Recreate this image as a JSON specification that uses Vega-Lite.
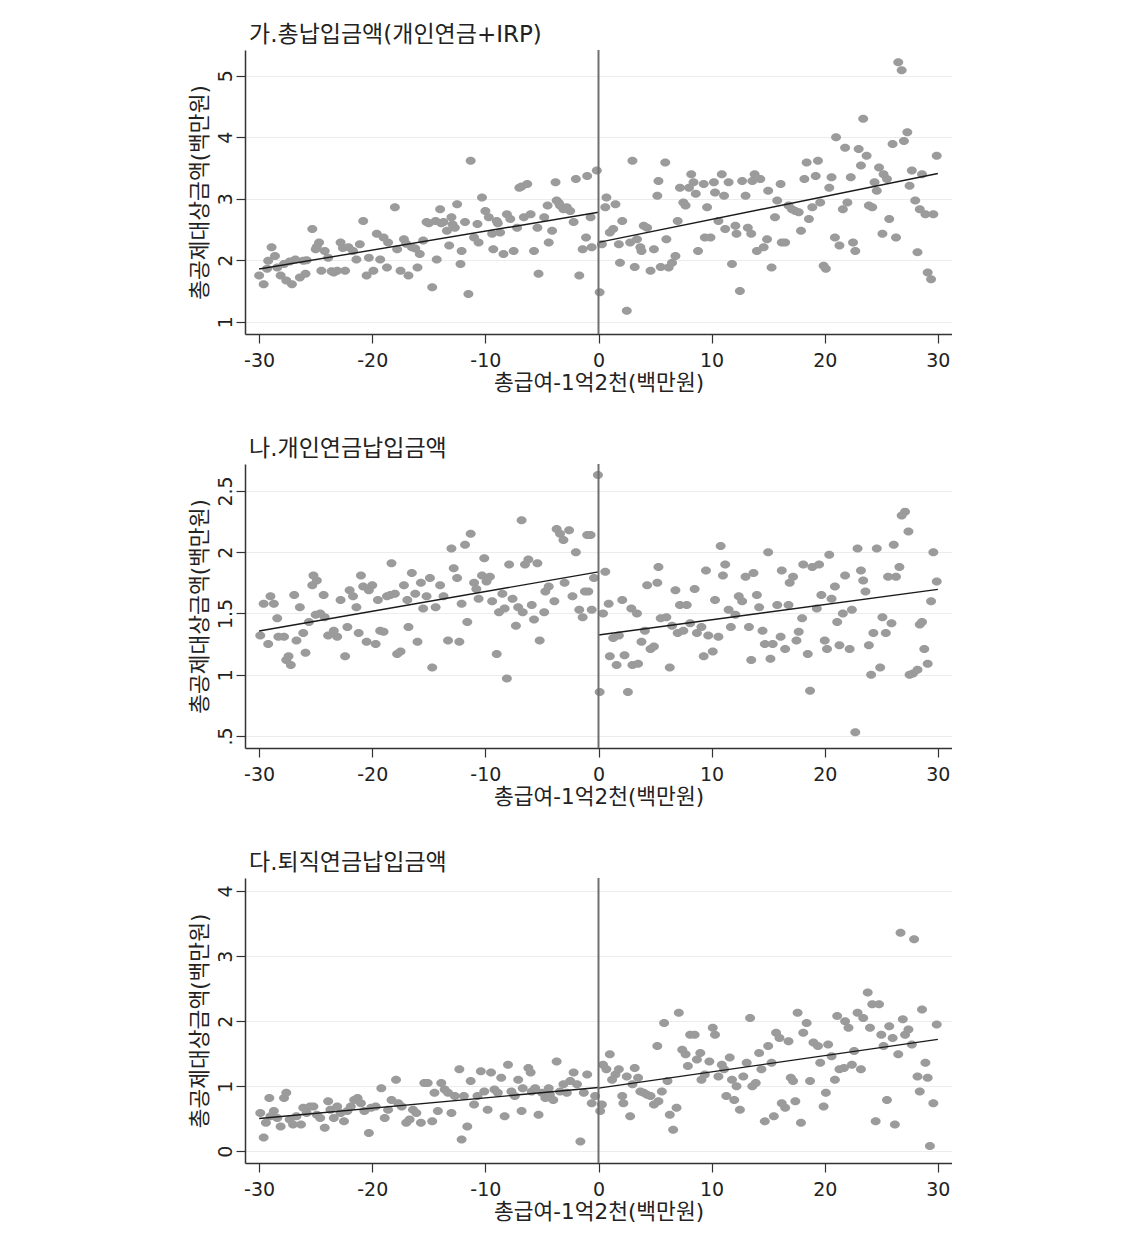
{
"$schema": "https://vega.github.io/schema/vega-lite/v6.json",
"background": "white",
"padding": {"left": 189, "top": 24, "right": 0, "bottom": 0},
"spacing": 44,
"config": {
  "font": "DejaVu Sans, Noto Sans CJK KR",
  "view": {"stroke": null},
  "title": {"fontSize": 23, "fontWeight": "normal", "anchor": "start", "frame": "group", "offset": 2, "dx": 4, "color": "#222222", "font": "DejaVu Sans, Noto Sans CJK KR"},
  "axis": {"domainColor": "#333333", "domainWidth": 1.5, "tickColor": "#333333", "tickSize": 9, "tickWidth": 1.2, "labelFontSize": 19, "labelColor": "#222222", "titleFontSize": 21.5, "titleFontWeight": "normal", "titleColor": "#222222", "gridColor": "#ececec", "gridWidth": 1.2, "labelFont": "DejaVu Sans, Noto Sans CJK KR", "titleFont": "DejaVu Sans, Noto Sans CJK KR"},
  "axisX": {"grid": false, "labelPadding": 8, "titlePadding": 2, "labelExpr": "(datum.value<0?'-':'')+abs(datum.value)"},
  "axisY": {"grid": true, "labelAngle": 270, "labelPadding": 1, "titlePadding": 5, "format": "~g"}
},
"datasets": {
"lines": [
{"p":1,"s":"a","x":-30,"y":1.857},{"p":1,"s":"a","x":0,"y":2.78},{"p":1,"s":"b","x":0,"y":2.29},{"p":1,"s":"b","x":30,"y":3.41},
{"p":2,"s":"a","x":-30,"y":1.357},{"p":2,"s":"a","x":0,"y":1.84},{"p":2,"s":"b","x":0,"y":1.324},{"p":2,"s":"b","x":30,"y":1.697},
{"p":3,"s":"a","x":-30,"y":0.503},{"p":3,"s":"a","x":0,"y":0.98},{"p":3,"s":"b","x":0,"y":0.97},{"p":3,"s":"b","x":30,"y":1.72}
],
"pts": [
{"p":1,"x":-30,"y":1.75},{"p":1,"x":-29.6,"y":1.61},{"p":1,"x":-29.3,"y":1.86},{"p":1,"x":-29.2,"y":1.99},{"p":1,"x":-28.9,"y":2.21},{"p":1,"x":-28.6,"y":2.07},{"p":1,"x":-28.4,"y":1.88},{"p":1,"x":-28.1,"y":1.75},{"p":1,"x":-27.8,"y":1.94},{"p":1,"x":-27.6,"y":1.67},{"p":1,"x":-27.3,"y":1.98},{"p":1,"x":-27.1,"y":1.61},{"p":1,"x":-26.8,"y":2.01},{"p":1,"x":-26.4,"y":1.72},{"p":1,"x":-26.1,"y":1.99},{"p":1,"x":-25.9,"y":1.78},{"p":1,"x":-25.8,"y":2.0},{"p":1,"x":-25.3,"y":2.51},{"p":1,"x":-25.0,"y":2.18},{"p":1,"x":-24.9,"y":2.22},{"p":1,"x":-24.7,"y":2.29},{"p":1,"x":-24.5,"y":1.83},{"p":1,"x":-24.2,"y":2.15},{"p":1,"x":-23.9,"y":2.04},{"p":1,"x":-23.6,"y":1.82},{"p":1,"x":-23.4,"y":1.80},{"p":1,"x":-23.1,"y":1.83},{"p":1,"x":-22.8,"y":2.29},{"p":1,"x":-22.6,"y":2.2},{"p":1,"x":-22.4,"y":1.83},{"p":1,"x":-22.1,"y":2.21},{"p":1,"x":-21.7,"y":2.15},{"p":1,"x":-21.4,"y":2.01},{"p":1,"x":-21.1,"y":2.26},{"p":1,"x":-20.8,"y":2.64},{"p":1,"x":-20.5,"y":1.75},{"p":1,"x":-20.3,"y":2.04},{"p":1,"x":-19.9,"y":1.83},{"p":1,"x":-19.6,"y":2.43},{"p":1,"x":-19.3,"y":2.01},{"p":1,"x":-19.0,"y":2.37},{"p":1,"x":-18.7,"y":1.88},{"p":1,"x":-18.6,"y":2.29},{"p":1,"x":-18.0,"y":2.86},{"p":1,"x":-17.8,"y":2.18},{"p":1,"x":-17.5,"y":1.83},{"p":1,"x":-17.2,"y":2.34},{"p":1,"x":-17.0,"y":2.27},{"p":1,"x":-16.8,"y":1.75},{"p":1,"x":-16.5,"y":2.21},{"p":1,"x":-16.2,"y":2.19},{"p":1,"x":-16.0,"y":1.88},{"p":1,"x":-15.8,"y":2.10},{"p":1,"x":-15.5,"y":2.32},{"p":1,"x":-15.2,"y":2.62},{"p":1,"x":-15.0,"y":2.6},{"p":1,"x":-14.7,"y":1.56},{"p":1,"x":-14.4,"y":2.64},{"p":1,"x":-14.3,"y":2.01},{"p":1,"x":-14.0,"y":2.83},{"p":1,"x":-13.9,"y":2.6},{"p":1,"x":-13.7,"y":2.62},{"p":1,"x":-13.4,"y":2.48},{"p":1,"x":-13.2,"y":2.24},{"p":1,"x":-13.0,"y":2.70},{"p":1,"x":-12.9,"y":2.58},{"p":1,"x":-12.7,"y":2.53},{"p":1,"x":-12.5,"y":2.91},{"p":1,"x":-12.2,"y":1.94},{"p":1,"x":-12.1,"y":2.15},{"p":1,"x":-11.8,"y":2.62},{"p":1,"x":-11.5,"y":1.45},{"p":1,"x":-11.3,"y":3.62},{"p":1,"x":-11.0,"y":2.37},{"p":1,"x":-10.7,"y":2.59},{"p":1,"x":-10.6,"y":2.29},{"p":1,"x":-10.3,"y":3.02},{"p":1,"x":-10.0,"y":2.80},{"p":1,"x":-9.7,"y":2.70},{"p":1,"x":-9.4,"y":2.43},{"p":1,"x":-9.3,"y":2.18},{"p":1,"x":-9.0,"y":2.64},{"p":1,"x":-8.9,"y":2.6},{"p":1,"x":-8.7,"y":2.45},{"p":1,"x":-8.4,"y":2.10},{"p":1,"x":-8.1,"y":2.75},{"p":1,"x":-7.8,"y":2.67},{"p":1,"x":-7.5,"y":2.15},{"p":1,"x":-7.2,"y":2.53},{"p":1,"x":-7.0,"y":3.18},{"p":1,"x":-6.8,"y":3.2},{"p":1,"x":-6.6,"y":2.70},{"p":1,"x":-6.3,"y":3.24},{"p":1,"x":-6.0,"y":2.75},{"p":1,"x":-5.7,"y":2.15},{"p":1,"x":-5.4,"y":2.53},{"p":1,"x":-5.3,"y":1.78},{"p":1,"x":-4.8,"y":2.70},{"p":1,"x":-4.5,"y":2.89},{"p":1,"x":-4.4,"y":2.29},{"p":1,"x":-4.1,"y":2.48},{"p":1,"x":-3.8,"y":3.27},{"p":1,"x":-3.7,"y":2.97},{"p":1,"x":-3.5,"y":2.93},{"p":1,"x":-3.4,"y":2.89},{"p":1,"x":-3.1,"y":2.83},{"p":1,"x":-2.8,"y":2.86},{"p":1,"x":-2.5,"y":2.80},{"p":1,"x":-2.2,"y":2.62},{"p":1,"x":-2.0,"y":3.32},{"p":1,"x":-1.7,"y":1.75},{"p":1,"x":-1.4,"y":2.18},{"p":1,"x":-1.1,"y":2.37},{"p":1,"x":-1.0,"y":3.37},{"p":1,"x":-0.7,"y":2.70},{"p":1,"x":-0.6,"y":2.21},{"p":1,"x":-0.15,"y":3.46},
{"p":1,"x":0.1,"y":1.48},{"p":1,"x":0.3,"y":2.26},{"p":1,"x":0.6,"y":2.86},{"p":1,"x":0.7,"y":3.02},{"p":1,"x":1.0,"y":2.45},{"p":1,"x":1.3,"y":2.51},{"p":1,"x":1.5,"y":2.91},{"p":1,"x":1.8,"y":2.26},{"p":1,"x":1.9,"y":1.96},{"p":1,"x":2.1,"y":2.64},{"p":1,"x":2.5,"y":1.18},{"p":1,"x":2.8,"y":2.29},{"p":1,"x":3.0,"y":3.62},{"p":1,"x":3.2,"y":1.89},{"p":1,"x":3.4,"y":2.34},{"p":1,"x":3.7,"y":2.21},{"p":1,"x":3.8,"y":2.15},{"p":1,"x":4.0,"y":2.56},{"p":1,"x":4.3,"y":2.53},{"p":1,"x":4.6,"y":1.83},{"p":1,"x":4.9,"y":2.18},{"p":1,"x":5.2,"y":3.05},{"p":1,"x":5.3,"y":3.29},{"p":1,"x":5.5,"y":1.89},{"p":1,"x":5.9,"y":3.59},{"p":1,"x":6.0,"y":2.34},{"p":1,"x":6.2,"y":1.88},{"p":1,"x":6.5,"y":1.96},{"p":1,"x":6.8,"y":2.07},{"p":1,"x":7.0,"y":2.64},{"p":1,"x":7.2,"y":3.18},{"p":1,"x":7.5,"y":2.94},{"p":1,"x":7.7,"y":2.89},{"p":1,"x":8.0,"y":3.18},{"p":1,"x":8.2,"y":3.40},{"p":1,"x":8.4,"y":3.27},{"p":1,"x":8.6,"y":3.08},{"p":1,"x":8.8,"y":2.15},{"p":1,"x":9.3,"y":3.24},{"p":1,"x":9.4,"y":2.37},{"p":1,"x":9.6,"y":2.86},{"p":1,"x":9.9,"y":2.37},{"p":1,"x":10.2,"y":3.27},{"p":1,"x":10.3,"y":3.10},{"p":1,"x":10.6,"y":2.64},{"p":1,"x":10.9,"y":3.40},{"p":1,"x":11.1,"y":3.05},{"p":1,"x":11.2,"y":2.51},{"p":1,"x":11.5,"y":3.27},{"p":1,"x":11.8,"y":1.94},{"p":1,"x":12.1,"y":2.56},{"p":1,"x":12.2,"y":2.43},{"p":1,"x":12.5,"y":1.50},{"p":1,"x":12.7,"y":3.29},{"p":1,"x":13.0,"y":3.05},{"p":1,"x":13.2,"y":2.53},{"p":1,"x":13.5,"y":2.43},{"p":1,"x":13.6,"y":3.29},{"p":1,"x":13.8,"y":3.40},{"p":1,"x":14.0,"y":2.15},{"p":1,"x":14.3,"y":3.32},{"p":1,"x":14.6,"y":2.21},{"p":1,"x":14.9,"y":2.34},{"p":1,"x":15.0,"y":3.13},{"p":1,"x":15.3,"y":1.88},{"p":1,"x":15.6,"y":2.70},{"p":1,"x":15.8,"y":2.97},{"p":1,"x":16.1,"y":3.24},{"p":1,"x":16.2,"y":2.29},{"p":1,"x":16.5,"y":2.29},{"p":1,"x":16.8,"y":2.89},{"p":1,"x":17.1,"y":2.83},{"p":1,"x":17.4,"y":2.80},{"p":1,"x":17.7,"y":2.78},{"p":1,"x":17.9,"y":2.48},{"p":1,"x":18.2,"y":3.32},{"p":1,"x":18.4,"y":3.59},{"p":1,"x":18.6,"y":2.67},{"p":1,"x":18.9,"y":2.86},{"p":1,"x":19.2,"y":3.37},{"p":1,"x":19.4,"y":3.62},{"p":1,"x":19.6,"y":2.94},{"p":1,"x":19.9,"y":1.91},{"p":1,"x":20.1,"y":1.86},{"p":1,"x":20.4,"y":3.18},{"p":1,"x":20.6,"y":3.35},{"p":1,"x":20.9,"y":2.37},{"p":1,"x":21.0,"y":4.00},{"p":1,"x":21.3,"y":2.24},{"p":1,"x":21.6,"y":2.83},{"p":1,"x":21.8,"y":3.83},{"p":1,"x":22.0,"y":2.94},{"p":1,"x":22.3,"y":3.35},{"p":1,"x":22.5,"y":2.29},{"p":1,"x":22.7,"y":2.15},{"p":1,"x":23.0,"y":3.81},{"p":1,"x":23.2,"y":3.54},{"p":1,"x":23.4,"y":4.30},{"p":1,"x":23.7,"y":3.70},{"p":1,"x":23.9,"y":2.89},{"p":1,"x":24.2,"y":2.86},{"p":1,"x":24.4,"y":3.27},{"p":1,"x":24.6,"y":3.13},{"p":1,"x":24.8,"y":3.51},{"p":1,"x":25.1,"y":2.43},{"p":1,"x":25.2,"y":3.40},{"p":1,"x":25.5,"y":3.32},{"p":1,"x":25.7,"y":2.67},{"p":1,"x":26.0,"y":3.89},{"p":1,"x":26.3,"y":2.37},{"p":1,"x":26.5,"y":5.22},{"p":1,"x":26.8,"y":5.09},{"p":1,"x":27.0,"y":3.94},{"p":1,"x":27.3,"y":4.08},{"p":1,"x":27.5,"y":3.21},{"p":1,"x":27.7,"y":3.46},{"p":1,"x":28.0,"y":2.97},{"p":1,"x":28.2,"y":2.13},{"p":1,"x":28.4,"y":2.83},{"p":1,"x":28.6,"y":3.40},{"p":1,"x":28.9,"y":2.75},{"p":1,"x":29.1,"y":1.80},{"p":1,"x":29.4,"y":1.69},{"p":1,"x":29.6,"y":2.75},{"p":1,"x":29.9,"y":3.70},
{"p":2,"x":-29.9,"y":1.32},{"p":2,"x":-29.6,"y":1.58},{"p":2,"x":-29.2,"y":1.25},{"p":2,"x":-29.0,"y":1.64},{"p":2,"x":-28.7,"y":1.58},{"p":2,"x":-28.4,"y":1.46},{"p":2,"x":-28.3,"y":1.31},{"p":2,"x":-27.8,"y":1.31},{"p":2,"x":-27.6,"y":1.12},{"p":2,"x":-27.4,"y":1.15},{"p":2,"x":-27.2,"y":1.08},{"p":2,"x":-26.9,"y":1.65},{"p":2,"x":-26.7,"y":1.28},{"p":2,"x":-26.4,"y":1.55},{"p":2,"x":-26.1,"y":1.34},{"p":2,"x":-25.9,"y":1.18},{"p":2,"x":-25.6,"y":1.43},{"p":2,"x":-25.3,"y":1.73},{"p":2,"x":-25.2,"y":1.81},{"p":2,"x":-24.9,"y":1.77},{"p":2,"x":-25.0,"y":1.49},{"p":2,"x":-24.6,"y":1.50},{"p":2,"x":-24.3,"y":1.65},{"p":2,"x":-24.2,"y":1.47},{"p":2,"x":-23.9,"y":1.32},{"p":2,"x":-23.4,"y":1.36},{"p":2,"x":-23.1,"y":1.31},{"p":2,"x":-22.8,"y":1.61},{"p":2,"x":-22.4,"y":1.15},{"p":2,"x":-22.2,"y":1.39},{"p":2,"x":-22.0,"y":1.69},{"p":2,"x":-21.7,"y":1.64},{"p":2,"x":-21.4,"y":1.55},{"p":2,"x":-21.2,"y":1.34},{"p":2,"x":-21.0,"y":1.81},{"p":2,"x":-20.8,"y":1.72},{"p":2,"x":-20.5,"y":1.27},{"p":2,"x":-20.3,"y":1.69},{"p":2,"x":-20.0,"y":1.73},{"p":2,"x":-19.7,"y":1.25},{"p":2,"x":-19.5,"y":1.61},{"p":2,"x":-19.3,"y":1.36},{"p":2,"x":-19.0,"y":1.35},{"p":2,"x":-18.7,"y":1.64},{"p":2,"x":-18.4,"y":1.65},{"p":2,"x":-18.3,"y":1.91},{"p":2,"x":-18.0,"y":1.66},{"p":2,"x":-17.8,"y":1.17},{"p":2,"x":-17.5,"y":1.19},{"p":2,"x":-17.2,"y":1.73},{"p":2,"x":-16.9,"y":1.61},{"p":2,"x":-16.8,"y":1.39},{"p":2,"x":-16.5,"y":1.83},{"p":2,"x":-16.2,"y":1.66},{"p":2,"x":-16.0,"y":1.27},{"p":2,"x":-15.7,"y":1.75},{"p":2,"x":-15.5,"y":1.54},{"p":2,"x":-15.2,"y":1.64},{"p":2,"x":-14.9,"y":1.79},{"p":2,"x":-14.7,"y":1.06},{"p":2,"x":-14.4,"y":1.55},{"p":2,"x":-14.0,"y":1.73},{"p":2,"x":-13.7,"y":1.64},{"p":2,"x":-13.3,"y":1.28},{"p":2,"x":-13.0,"y":2.03},{"p":2,"x":-12.8,"y":1.87},{"p":2,"x":-12.5,"y":1.79},{"p":2,"x":-12.3,"y":1.27},{"p":2,"x":-12.1,"y":1.58},{"p":2,"x":-11.8,"y":2.06},{"p":2,"x":-11.6,"y":1.43},{"p":2,"x":-11.3,"y":2.15},{"p":2,"x":-11.0,"y":1.75},{"p":2,"x":-10.8,"y":1.70},{"p":2,"x":-10.6,"y":1.62},{"p":2,"x":-10.3,"y":1.81},{"p":2,"x":-10.1,"y":1.95},{"p":2,"x":-9.9,"y":1.76},{"p":2,"x":-9.6,"y":1.80},{"p":2,"x":-9.4,"y":1.60},{"p":2,"x":-9.0,"y":1.17},{"p":2,"x":-8.8,"y":1.51},{"p":2,"x":-8.5,"y":1.66},{"p":2,"x":-8.3,"y":1.54},{"p":2,"x":-8.1,"y":0.97},{"p":2,"x":-7.9,"y":1.90},{"p":2,"x":-7.6,"y":1.62},{"p":2,"x":-7.3,"y":1.40},{"p":2,"x":-7.1,"y":1.55},{"p":2,"x":-6.8,"y":2.26},{"p":2,"x":-6.7,"y":1.51},{"p":2,"x":-6.5,"y":1.90},{"p":2,"x":-6.2,"y":1.94},{"p":2,"x":-5.9,"y":1.57},{"p":2,"x":-5.7,"y":1.45},{"p":2,"x":-5.4,"y":1.91},{"p":2,"x":-5.2,"y":1.28},{"p":2,"x":-4.8,"y":1.51},{"p":2,"x":-4.7,"y":1.68},{"p":2,"x":-4.4,"y":1.72},{"p":2,"x":-3.9,"y":1.60},{"p":2,"x":-3.7,"y":2.19},{"p":2,"x":-3.4,"y":2.15},{"p":2,"x":-3.1,"y":2.10},{"p":2,"x":-3.0,"y":1.75},{"p":2,"x":-2.6,"y":2.18},{"p":2,"x":-2.3,"y":1.64},{"p":2,"x":-2.0,"y":2.00},{"p":2,"x":-1.7,"y":1.53},{"p":2,"x":-1.4,"y":1.47},{"p":2,"x":-1.2,"y":1.68},{"p":2,"x":-1.0,"y":2.14},{"p":2,"x":-0.7,"y":2.14},{"p":2,"x":-0.4,"y":1.79},{"p":2,"x":-0.9,"y":1.68},{"p":2,"x":-0.6,"y":1.53},{"p":2,"x":-0.05,"y":2.63},
{"p":2,"x":0.1,"y":0.86},{"p":2,"x":0.4,"y":1.50},{"p":2,"x":0.6,"y":1.84},{"p":2,"x":0.9,"y":1.58},{"p":2,"x":1.0,"y":1.15},{"p":2,"x":1.3,"y":1.30},{"p":2,"x":1.6,"y":1.08},{"p":2,"x":1.8,"y":1.32},{"p":2,"x":2.1,"y":1.61},{"p":2,"x":2.3,"y":1.16},{"p":2,"x":2.6,"y":0.86},{"p":2,"x":2.9,"y":1.54},{"p":2,"x":3.0,"y":1.08},{"p":2,"x":3.4,"y":1.50},{"p":2,"x":3.5,"y":1.09},{"p":2,"x":3.8,"y":1.27},{"p":2,"x":4.1,"y":1.36},{"p":2,"x":4.3,"y":1.73},{"p":2,"x":4.6,"y":1.21},{"p":2,"x":4.9,"y":1.23},{"p":2,"x":5.2,"y":1.75},{"p":2,"x":5.3,"y":1.88},{"p":2,"x":5.5,"y":1.46},{"p":2,"x":6.0,"y":1.47},{"p":2,"x":6.3,"y":1.06},{"p":2,"x":6.5,"y":1.40},{"p":2,"x":6.8,"y":1.69},{"p":2,"x":7.0,"y":1.34},{"p":2,"x":7.2,"y":1.57},{"p":2,"x":7.5,"y":1.36},{"p":2,"x":7.8,"y":1.57},{"p":2,"x":8.1,"y":1.42},{"p":2,"x":8.5,"y":1.70},{"p":2,"x":8.7,"y":1.34},{"p":2,"x":9.1,"y":1.39},{"p":2,"x":9.3,"y":1.15},{"p":2,"x":9.5,"y":1.85},{"p":2,"x":9.7,"y":1.32},{"p":2,"x":10.1,"y":1.19},{"p":2,"x":10.3,"y":1.61},{"p":2,"x":10.6,"y":1.31},{"p":2,"x":10.8,"y":2.05},{"p":2,"x":11.0,"y":1.81},{"p":2,"x":11.2,"y":1.90},{"p":2,"x":11.5,"y":1.53},{"p":2,"x":11.7,"y":1.39},{"p":2,"x":12.1,"y":1.49},{"p":2,"x":12.4,"y":1.64},{"p":2,"x":12.7,"y":1.60},{"p":2,"x":13.0,"y":1.80},{"p":2,"x":13.3,"y":1.39},{"p":2,"x":13.5,"y":1.12},{"p":2,"x":13.7,"y":1.83},{"p":2,"x":14.0,"y":1.65},{"p":2,"x":14.2,"y":1.55},{"p":2,"x":14.5,"y":1.36},{"p":2,"x":14.7,"y":1.25},{"p":2,"x":15.0,"y":2.00},{"p":2,"x":15.2,"y":1.13},{"p":2,"x":15.4,"y":1.25},{"p":2,"x":15.8,"y":1.57},{"p":2,"x":16.1,"y":1.31},{"p":2,"x":16.2,"y":1.85},{"p":2,"x":16.5,"y":1.21},{"p":2,"x":16.8,"y":1.57},{"p":2,"x":16.9,"y":1.75},{"p":2,"x":17.2,"y":1.80},{"p":2,"x":17.5,"y":1.28},{"p":2,"x":17.7,"y":1.35},{"p":2,"x":18.0,"y":1.46},{"p":2,"x":18.1,"y":1.90},{"p":2,"x":18.5,"y":1.17},{"p":2,"x":18.7,"y":0.87},{"p":2,"x":18.9,"y":1.88},{"p":2,"x":19.3,"y":1.54},{"p":2,"x":19.5,"y":1.90},{"p":2,"x":19.7,"y":1.65},{"p":2,"x":20.0,"y":1.28},{"p":2,"x":20.2,"y":1.21},{"p":2,"x":20.4,"y":1.98},{"p":2,"x":20.6,"y":1.62},{"p":2,"x":20.9,"y":1.72},{"p":2,"x":21.1,"y":1.43},{"p":2,"x":21.3,"y":1.24},{"p":2,"x":21.6,"y":1.50},{"p":2,"x":21.8,"y":1.81},{"p":2,"x":22.2,"y":1.21},{"p":2,"x":22.4,"y":1.53},{"p":2,"x":22.7,"y":0.53},{"p":2,"x":22.9,"y":2.03},{"p":2,"x":23.2,"y":1.85},{"p":2,"x":23.4,"y":1.77},{"p":2,"x":23.6,"y":1.68},{"p":2,"x":23.9,"y":1.24},{"p":2,"x":24.1,"y":1.00},{"p":2,"x":24.3,"y":1.34},{"p":2,"x":24.6,"y":2.03},{"p":2,"x":24.9,"y":1.06},{"p":2,"x":25.1,"y":1.47},{"p":2,"x":25.4,"y":1.34},{"p":2,"x":25.6,"y":1.80},{"p":2,"x":25.9,"y":1.42},{"p":2,"x":26.1,"y":2.06},{"p":2,"x":26.3,"y":1.80},{"p":2,"x":26.6,"y":1.88},{"p":2,"x":26.8,"y":2.30},{"p":2,"x":27.1,"y":2.33},{"p":2,"x":27.4,"y":2.17},{"p":2,"x":27.5,"y":1.00},{"p":2,"x":27.8,"y":1.01},{"p":2,"x":28.2,"y":1.04},{"p":2,"x":28.4,"y":1.41},{"p":2,"x":28.6,"y":1.43},{"p":2,"x":28.8,"y":1.21},{"p":2,"x":29.1,"y":1.09},{"p":2,"x":29.4,"y":1.60},{"p":2,"x":29.6,"y":2.00},{"p":2,"x":29.9,"y":1.76},
{"p":3,"x":-29.9,"y":0.59},{"p":3,"x":-29.6,"y":0.21},{"p":3,"x":-29.4,"y":0.44},{"p":3,"x":-29.1,"y":0.82},{"p":3,"x":-29.0,"y":0.54},{"p":3,"x":-28.7,"y":0.62},{"p":3,"x":-28.4,"y":0.51},{"p":3,"x":-28.1,"y":0.38},{"p":3,"x":-27.8,"y":0.82},{"p":3,"x":-27.6,"y":0.90},{"p":3,"x":-27.3,"y":0.49},{"p":3,"x":-27.0,"y":0.41},{"p":3,"x":-26.7,"y":0.54},{"p":3,"x":-26.3,"y":0.41},{"p":3,"x":-26.1,"y":0.67},{"p":3,"x":-25.8,"y":0.59},{"p":3,"x":-25.5,"y":0.69},{"p":3,"x":-25.2,"y":0.69},{"p":3,"x":-24.9,"y":0.56},{"p":3,"x":-24.6,"y":0.51},{"p":3,"x":-24.2,"y":0.36},{"p":3,"x":-23.9,"y":0.77},{"p":3,"x":-23.7,"y":0.64},{"p":3,"x":-23.4,"y":0.51},{"p":3,"x":-23.1,"y":0.69},{"p":3,"x":-22.8,"y":0.59},{"p":3,"x":-22.5,"y":0.46},{"p":3,"x":-22.2,"y":0.62},{"p":3,"x":-21.9,"y":0.69},{"p":3,"x":-21.6,"y":0.79},{"p":3,"x":-21.3,"y":0.82},{"p":3,"x":-21.0,"y":0.74},{"p":3,"x":-20.7,"y":0.62},{"p":3,"x":-20.3,"y":0.28},{"p":3,"x":-20.1,"y":0.67},{"p":3,"x":-19.7,"y":0.69},{"p":3,"x":-19.2,"y":0.97},{"p":3,"x":-18.9,"y":0.51},{"p":3,"x":-18.6,"y":0.64},{"p":3,"x":-18.3,"y":0.79},{"p":3,"x":-17.9,"y":1.10},{"p":3,"x":-17.7,"y":0.74},{"p":3,"x":-17.4,"y":0.69},{"p":3,"x":-17.0,"y":0.44},{"p":3,"x":-16.7,"y":0.49},{"p":3,"x":-16.4,"y":0.64},{"p":3,"x":-16.1,"y":0.59},{"p":3,"x":-15.7,"y":0.44},{"p":3,"x":-15.4,"y":1.05},{"p":3,"x":-15.1,"y":1.05},{"p":3,"x":-14.7,"y":0.46},{"p":3,"x":-14.5,"y":0.90},{"p":3,"x":-14.2,"y":0.62},{"p":3,"x":-13.9,"y":1.05},{"p":3,"x":-13.6,"y":0.95},{"p":3,"x":-13.3,"y":0.90},{"p":3,"x":-13.0,"y":0.59},{"p":3,"x":-12.7,"y":0.85},{"p":3,"x":-12.3,"y":1.26},{"p":3,"x":-12.1,"y":0.18},{"p":3,"x":-11.9,"y":0.85},{"p":3,"x":-11.6,"y":0.38},{"p":3,"x":-11.3,"y":1.08},{"p":3,"x":-11.0,"y":0.72},{"p":3,"x":-10.7,"y":0.85},{"p":3,"x":-10.4,"y":1.23},{"p":3,"x":-10.1,"y":0.92},{"p":3,"x":-9.8,"y":0.64},{"p":3,"x":-9.5,"y":1.21},{"p":3,"x":-9.2,"y":0.95},{"p":3,"x":-8.9,"y":0.90},{"p":3,"x":-8.6,"y":1.13},{"p":3,"x":-8.3,"y":0.54},{"p":3,"x":-8.0,"y":1.33},{"p":3,"x":-7.7,"y":0.92},{"p":3,"x":-7.4,"y":0.85},{"p":3,"x":-7.1,"y":1.10},{"p":3,"x":-6.8,"y":0.62},{"p":3,"x":-6.7,"y":0.97},{"p":3,"x":-6.2,"y":1.28},{"p":3,"x":-6.0,"y":1.21},{"p":3,"x":-5.9,"y":0.92},{"p":3,"x":-5.6,"y":0.97},{"p":3,"x":-5.3,"y":0.56},{"p":3,"x":-5.0,"y":0.90},{"p":3,"x":-4.7,"y":0.82},{"p":3,"x":-4.4,"y":0.97},{"p":3,"x":-4.3,"y":0.87},{"p":3,"x":-4.0,"y":0.79},{"p":3,"x":-3.7,"y":1.38},{"p":3,"x":-3.4,"y":0.92},{"p":3,"x":-3.1,"y":1.03},{"p":3,"x":-2.8,"y":0.90},{"p":3,"x":-2.5,"y":1.08},{"p":3,"x":-2.2,"y":1.21},{"p":3,"x":-1.9,"y":1.03},{"p":3,"x":-1.6,"y":0.15},{"p":3,"x":-1.3,"y":0.90},{"p":3,"x":-1.0,"y":1.18},{"p":3,"x":-0.6,"y":0.74},{"p":3,"x":-0.3,"y":0.85},
{"p":3,"x":0.15,"y":0.62},{"p":3,"x":0.3,"y":0.72},{"p":3,"x":0.4,"y":1.33},{"p":3,"x":0.7,"y":1.26},{"p":3,"x":1.0,"y":1.49},{"p":3,"x":1.2,"y":1.10},{"p":3,"x":1.5,"y":1.18},{"p":3,"x":1.8,"y":1.26},{"p":3,"x":2.1,"y":0.85},{"p":3,"x":2.2,"y":0.74},{"p":3,"x":2.5,"y":1.15},{"p":3,"x":2.8,"y":0.54},{"p":3,"x":3.0,"y":1.03},{"p":3,"x":3.2,"y":1.28},{"p":3,"x":3.5,"y":1.13},{"p":3,"x":3.7,"y":0.92},{"p":3,"x":4.0,"y":0.90},{"p":3,"x":4.3,"y":0.87},{"p":3,"x":4.6,"y":0.85},{"p":3,"x":4.9,"y":0.72},{"p":3,"x":5.2,"y":1.62},{"p":3,"x":5.3,"y":0.77},{"p":3,"x":5.6,"y":0.92},{"p":3,"x":5.8,"y":1.97},{"p":3,"x":6.1,"y":1.08},{"p":3,"x":6.3,"y":0.56},{"p":3,"x":6.6,"y":0.33},{"p":3,"x":6.9,"y":0.67},{"p":3,"x":7.1,"y":2.13},{"p":3,"x":7.4,"y":1.56},{"p":3,"x":7.7,"y":1.49},{"p":3,"x":7.9,"y":1.31},{"p":3,"x":8.1,"y":1.79},{"p":3,"x":8.5,"y":1.79},{"p":3,"x":8.7,"y":1.41},{"p":3,"x":9.0,"y":1.51},{"p":3,"x":9.1,"y":1.10},{"p":3,"x":9.4,"y":1.18},{"p":3,"x":9.8,"y":1.38},{"p":3,"x":10.1,"y":1.90},{"p":3,"x":10.3,"y":1.79},{"p":3,"x":10.6,"y":1.15},{"p":3,"x":10.9,"y":1.33},{"p":3,"x":11.1,"y":1.26},{"p":3,"x":11.3,"y":0.85},{"p":3,"x":11.6,"y":1.44},{"p":3,"x":11.8,"y":1.10},{"p":3,"x":12.0,"y":0.79},{"p":3,"x":12.2,"y":1.00},{"p":3,"x":12.5,"y":0.64},{"p":3,"x":12.8,"y":1.15},{"p":3,"x":13.1,"y":1.36},{"p":3,"x":13.4,"y":2.05},{"p":3,"x":13.6,"y":1.00},{"p":3,"x":13.9,"y":1.05},{"p":3,"x":14.2,"y":1.51},{"p":3,"x":14.4,"y":1.26},{"p":3,"x":14.7,"y":0.46},{"p":3,"x":15.0,"y":1.62},{"p":3,"x":15.3,"y":1.36},{"p":3,"x":15.5,"y":0.54},{"p":3,"x":15.7,"y":1.82},{"p":3,"x":16.0,"y":1.74},{"p":3,"x":16.2,"y":0.74},{"p":3,"x":16.5,"y":0.67},{"p":3,"x":16.8,"y":1.69},{"p":3,"x":17.0,"y":1.13},{"p":3,"x":17.2,"y":1.08},{"p":3,"x":17.4,"y":0.77},{"p":3,"x":17.6,"y":2.13},{"p":3,"x":17.9,"y":0.44},{"p":3,"x":18.1,"y":1.82},{"p":3,"x":18.4,"y":1.97},{"p":3,"x":18.7,"y":1.08},{"p":3,"x":19.0,"y":1.67},{"p":3,"x":19.4,"y":1.62},{"p":3,"x":19.6,"y":1.36},{"p":3,"x":19.9,"y":0.69},{"p":3,"x":20.1,"y":0.90},{"p":3,"x":20.3,"y":1.64},{"p":3,"x":20.6,"y":1.46},{"p":3,"x":20.9,"y":1.10},{"p":3,"x":21.1,"y":2.08},{"p":3,"x":21.3,"y":1.26},{"p":3,"x":21.7,"y":1.28},{"p":3,"x":21.8,"y":2.00},{"p":3,"x":22.1,"y":1.90},{"p":3,"x":22.4,"y":1.33},{"p":3,"x":22.6,"y":1.54},{"p":3,"x":22.9,"y":2.13},{"p":3,"x":23.2,"y":1.26},{"p":3,"x":23.4,"y":2.05},{"p":3,"x":23.8,"y":2.44},{"p":3,"x":24.0,"y":1.90},{"p":3,"x":24.2,"y":2.26},{"p":3,"x":24.5,"y":0.46},{"p":3,"x":24.8,"y":2.26},{"p":3,"x":25.0,"y":1.79},{"p":3,"x":25.2,"y":1.62},{"p":3,"x":25.5,"y":0.79},{"p":3,"x":25.7,"y":1.92},{"p":3,"x":26.0,"y":1.74},{"p":3,"x":26.2,"y":0.41},{"p":3,"x":26.5,"y":1.49},{"p":3,"x":26.7,"y":3.36},{"p":3,"x":26.9,"y":2.03},{"p":3,"x":27.1,"y":1.79},{"p":3,"x":27.4,"y":1.87},{"p":3,"x":27.7,"y":1.64},{"p":3,"x":27.9,"y":3.26},{"p":3,"x":28.2,"y":1.15},{"p":3,"x":28.4,"y":0.92},{"p":3,"x":28.6,"y":2.18},{"p":3,"x":28.9,"y":1.36},{"p":3,"x":29.1,"y":1.13},{"p":3,"x":29.3,"y":0.08},{"p":3,"x":29.6,"y":0.74},{"p":3,"x":29.9,"y":1.95}
]
},
"vconcat": [
{
 "title": {"text": "가.총납입금액(개인연금+IRP)"},
 "width": 707, "height": 284,
 "layer": [
  {"data": {"name": "pts"}, "transform": [{"filter": "datum.p==1"}],
   "mark": {"type": "point", "shape": "M-1,0A1,0.8,0,1,1,1,0A1,0.8,0,1,1,-1,0Z", "filled": true, "color": "#9b9b9b", "size": 100, "opacity": 1, "strokeWidth": 0},
   "encoding": {
    "x": {"field": "x", "type": "quantitative", "scale": {"domain": [-31.25, 31.25], "nice": false, "zero": false}, "axis": {"values": [-30, -20, -10, 0, 10, 20, 30], "title": "총급여-1억2천(백만원)"}},
    "y": {"field": "y", "type": "quantitative", "scale": {"domain": [0.8, 5.42], "nice": false, "zero": false}, "axis": {"values": [1, 2, 3, 4, 5], "title": "총공제대상금액(백만원)"}}
   }},
  {"data": {"name": "lines"}, "transform": [{"filter": "datum.p==1"}],
   "mark": {"type": "line", "color": "#1a1a1a", "strokeWidth": 1.4},
   "encoding": {"x": {"field": "x", "type": "quantitative"}, "y": {"field": "y", "type": "quantitative"}, "detail": {"field": "s"}}},
  {"data": {"values": [{"v": 0}]},
   "mark": {"type": "rule", "color": "#707070", "strokeWidth": 2},
   "encoding": {"x": {"field": "v", "type": "quantitative"}}}
 ]
},
{
 "title": {"text": "나.개인연금납입금액"},
 "width": 707, "height": 284,
 "layer": [
  {"data": {"name": "pts"}, "transform": [{"filter": "datum.p==2"}],
   "mark": {"type": "point", "shape": "M-1,0A1,0.8,0,1,1,1,0A1,0.8,0,1,1,-1,0Z", "filled": true, "color": "#9b9b9b", "size": 100, "opacity": 1, "strokeWidth": 0},
   "encoding": {
    "x": {"field": "x", "type": "quantitative", "scale": {"domain": [-31.25, 31.25], "nice": false, "zero": false}, "axis": {"values": [-30, -20, -10, 0, 10, 20, 30], "title": "총급여-1억2천(백만원)"}},
    "y": {"field": "y", "type": "quantitative", "scale": {"domain": [0.402, 2.72], "nice": false, "zero": false}, "axis": {"values": [0.5, 1, 1.5, 2, 2.5], "labelExpr": "datum.value==0.5?'.5':datum.label", "title": "총공제대상금액(백만원)"}}
   }},
  {"data": {"name": "lines"}, "transform": [{"filter": "datum.p==2"}],
   "mark": {"type": "line", "color": "#1a1a1a", "strokeWidth": 1.4},
   "encoding": {"x": {"field": "x", "type": "quantitative"}, "y": {"field": "y", "type": "quantitative"}, "detail": {"field": "s"}}},
  {"data": {"values": [{"v": 0}]},
   "mark": {"type": "rule", "color": "#707070", "strokeWidth": 2},
   "encoding": {"x": {"field": "v", "type": "quantitative"}}}
 ]
},
{
 "title": {"text": "다.퇴직연금납입금액"},
 "width": 707, "height": 285,
 "layer": [
  {"data": {"name": "pts"}, "transform": [{"filter": "datum.p==3"}],
   "mark": {"type": "point", "shape": "M-1,0A1,0.8,0,1,1,1,0A1,0.8,0,1,1,-1,0Z", "filled": true, "color": "#9b9b9b", "size": 100, "opacity": 1, "strokeWidth": 0},
   "encoding": {
    "x": {"field": "x", "type": "quantitative", "scale": {"domain": [-31.25, 31.25], "nice": false, "zero": false}, "axis": {"values": [-30, -20, -10, 0, 10, 20, 30], "title": "총급여-1억2천(백만원)"}},
    "y": {"field": "y", "type": "quantitative", "scale": {"domain": [-0.18, 4.2], "nice": false, "zero": false}, "axis": {"values": [0, 1, 2, 3, 4], "title": "총공제대상금액(백만원)"}}
   }},
  {"data": {"name": "lines"}, "transform": [{"filter": "datum.p==3"}],
   "mark": {"type": "line", "color": "#1a1a1a", "strokeWidth": 1.4},
   "encoding": {"x": {"field": "x", "type": "quantitative"}, "y": {"field": "y", "type": "quantitative"}, "detail": {"field": "s"}}},
  {"data": {"values": [{"v": 0}]},
   "mark": {"type": "rule", "color": "#707070", "strokeWidth": 2},
   "encoding": {"x": {"field": "v", "type": "quantitative"}}}
 ]
}
]
}
